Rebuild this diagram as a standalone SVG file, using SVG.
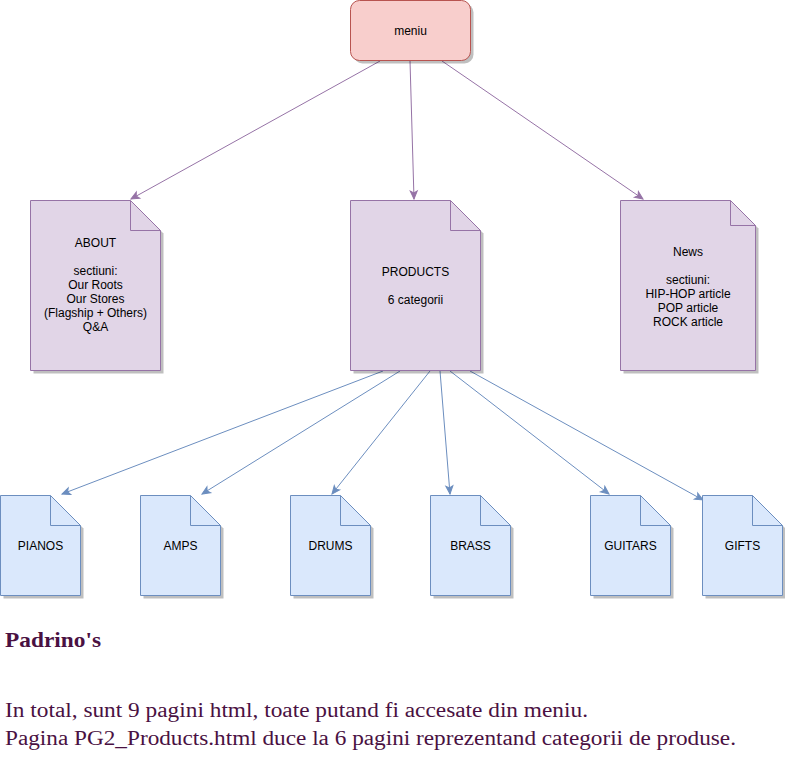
<svg xmlns="http://www.w3.org/2000/svg" width="785" height="764" viewBox="0 0 785 764">
<style>
.t{font-family:"Liberation Sans",Arial,sans-serif;font-size:12px;fill:#000;text-anchor:middle}
.sh{fill:#000;opacity:0.25}
.pur{fill:#e1d5e7;stroke:#9673a6;stroke-width:1}
.blu{fill:#dae8fc;stroke:#6c8ebf;stroke-width:1}
.red{fill:#f8cecc;stroke:#b85450;stroke-width:1}
.fold-p{fill:none;stroke:#9673a6;stroke-width:1}
.fold-b{fill:none;stroke:#6c8ebf;stroke-width:1}
.cp{fill:none;stroke:#9673a6;stroke-width:1}
.cb{fill:none;stroke:#6c8ebf;stroke-width:1}
.foot{font-family:"Liberation Serif","Times New Roman",serif;fill:#4a1142}
</style>
<defs>
<marker id="ap" markerUnits="userSpaceOnUse" markerWidth="12" markerHeight="12" viewBox="-10 -6 12 12" refX="0" refY="0" orient="auto">
<path d="M-8,-3.5 L0,0 L-8,3.5 L-6,0 Z" fill="#9673a6" stroke="#9673a6" stroke-width="1"/>
</marker>
<marker id="ab" markerUnits="userSpaceOnUse" markerWidth="12" markerHeight="12" viewBox="-10 -6 12 12" refX="0" refY="0" orient="auto">
<path d="M-8,-3.5 L0,0 L-8,3.5 L-6,0 Z" fill="#6c8ebf" stroke="#6c8ebf" stroke-width="1"/>
</marker>
</defs>
<rect width="785" height="764" fill="#fff"/>

<g id="connectors">
<path class="cp" d="M380,61 L131,199" marker-end="url(#ap)"/>
<path class="cp" d="M410,61 L414,199" marker-end="url(#ap)"/>
<path class="cp" d="M442,61 L643,199" marker-end="url(#ap)"/>
<path class="cb" d="M383,371 L62,494" marker-end="url(#ab)"/>
<path class="cb" d="M400,371 L202,494" marker-end="url(#ab)"/>
<path class="cb" d="M430,371 L332,494" marker-end="url(#ab)"/>
<path class="cb" d="M440,371 L450,494" marker-end="url(#ab)"/>
<path class="cb" d="M450,371 L609,494" marker-end="url(#ab)"/>
<path class="cb" d="M470,371 L703,500" marker-end="url(#ab)"/>
</g>

<g id="meniu">
<rect class="sh" x="353.5" y="3.5" width="120" height="60" rx="9"/>
<rect class="red" x="350.5" y="0.5" width="120" height="60" rx="9"/>
<text class="t" x="410.5" y="35">meniu</text>
</g>

<g id="about">
<path class="sh" d="M33.5,203.5 H133.5 L163.5,233.5 V373.5 H33.5 Z"/>
<path class="pur" d="M30.5,200.5 H130.5 L160.5,230.5 V370.5 H30.5 Z"/>
<path class="fold-p" d="M130.5,200.5 V230.5 H160.5"/>
<text class="t" x="95.5" y="247">ABOUT</text>
<text class="t" x="95.5" y="275">sectiuni:</text>
<text class="t" x="95.5" y="289">Our Roots</text>
<text class="t" x="95.5" y="303">Our Stores</text>
<text class="t" x="95.5" y="317">(Flagship + Others)</text>
<text class="t" x="95.5" y="331">Q&amp;A</text>
</g>

<g id="products">
<path class="sh" d="M353.5,203.5 H453.5 L483.5,233.5 V373.5 H353.5 Z"/>
<path class="pur" d="M350.5,200.5 H450.5 L480.5,230.5 V370.5 H350.5 Z"/>
<path class="fold-p" d="M450.5,200.5 V230.5 H480.5"/>
<text class="t" x="415.5" y="276">PRODUCTS</text>
<text class="t" x="415.5" y="304">6 categorii</text>
</g>

<g id="news">
<path class="sh" d="M623.5,203.5 H733.5 L758.5,228.5 V373.5 H623.5 Z"/>
<path class="pur" d="M620.5,200.5 H730.5 L755.5,225.5 V370.5 H620.5 Z"/>
<path class="fold-p" d="M730.5,200.5 V225.5 H755.5"/>
<text class="t" x="688" y="256">News</text>
<text class="t" x="688" y="284">sectiuni:</text>
<text class="t" x="688" y="298">HIP-HOP article</text>
<text class="t" x="688" y="312">POP article</text>
<text class="t" x="688" y="326">ROCK article</text>
</g>

<g id="pianos">
<path class="sh" d="M3.5,498.5 H53.5 L83.5,528.5 V598.5 H3.5 Z"/>
<path class="blu" d="M0.5,495.5 H50.5 L80.5,525.5 V595.5 H0.5 Z"/>
<path class="fold-b" d="M50.5,495.5 V525.5 H80.5"/>
<text class="t" x="40.5" y="550">PIANOS</text>
</g>

<g id="amps">
<path class="sh" d="M143.5,498.5 H193.5 L223.5,528.5 V598.5 H143.5 Z"/>
<path class="blu" d="M140.5,495.5 H190.5 L220.5,525.5 V595.5 H140.5 Z"/>
<path class="fold-b" d="M190.5,495.5 V525.5 H220.5"/>
<text class="t" x="180.5" y="550">AMPS</text>
</g>

<g id="drums">
<path class="sh" d="M293.5,498.5 H343.5 L373.5,528.5 V598.5 H293.5 Z"/>
<path class="blu" d="M290.5,495.5 H340.5 L370.5,525.5 V595.5 H290.5 Z"/>
<path class="fold-b" d="M340.5,495.5 V525.5 H370.5"/>
<text class="t" x="330.5" y="550">DRUMS</text>
</g>

<g id="brass">
<path class="sh" d="M433.5,498.5 H483.5 L513.5,528.5 V598.5 H433.5 Z"/>
<path class="blu" d="M430.5,495.5 H480.5 L510.5,525.5 V595.5 H430.5 Z"/>
<path class="fold-b" d="M480.5,495.5 V525.5 H510.5"/>
<text class="t" x="470.5" y="550">BRASS</text>
</g>

<g id="guitars">
<path class="sh" d="M593.5,498.5 H643.5 L673.5,528.5 V598.5 H593.5 Z"/>
<path class="blu" d="M590.5,495.5 H640.5 L670.5,525.5 V595.5 H590.5 Z"/>
<path class="fold-b" d="M640.5,495.5 V525.5 H670.5"/>
<text class="t" x="630.5" y="550">GUITARS</text>
</g>

<g id="gifts">
<path class="sh" d="M705.5,498.5 H755.5 L785.5,528.5 V598.5 H705.5 Z"/>
<path class="blu" d="M702.5,495.5 H752.5 L782.5,525.5 V595.5 H702.5 Z"/>
<path class="fold-b" d="M752.5,495.5 V525.5 H782.5"/>
<text class="t" x="742.5" y="550">GIFTS</text>
</g>

<g id="footer">
<text class="foot" x="5" y="647" font-size="21" font-weight="bold" textLength="96" lengthAdjust="spacingAndGlyphs">Padrino's</text>
<text class="foot" x="5" y="717" font-size="20" textLength="583" lengthAdjust="spacingAndGlyphs">In total, sunt 9 pagini html, toate putand fi accesate din meniu.</text>
<text class="foot" x="5" y="745" font-size="20" textLength="731" lengthAdjust="spacingAndGlyphs">Pagina PG2_Products.html duce la 6 pagini reprezentand categorii de produse.</text>
</g>
</svg>
